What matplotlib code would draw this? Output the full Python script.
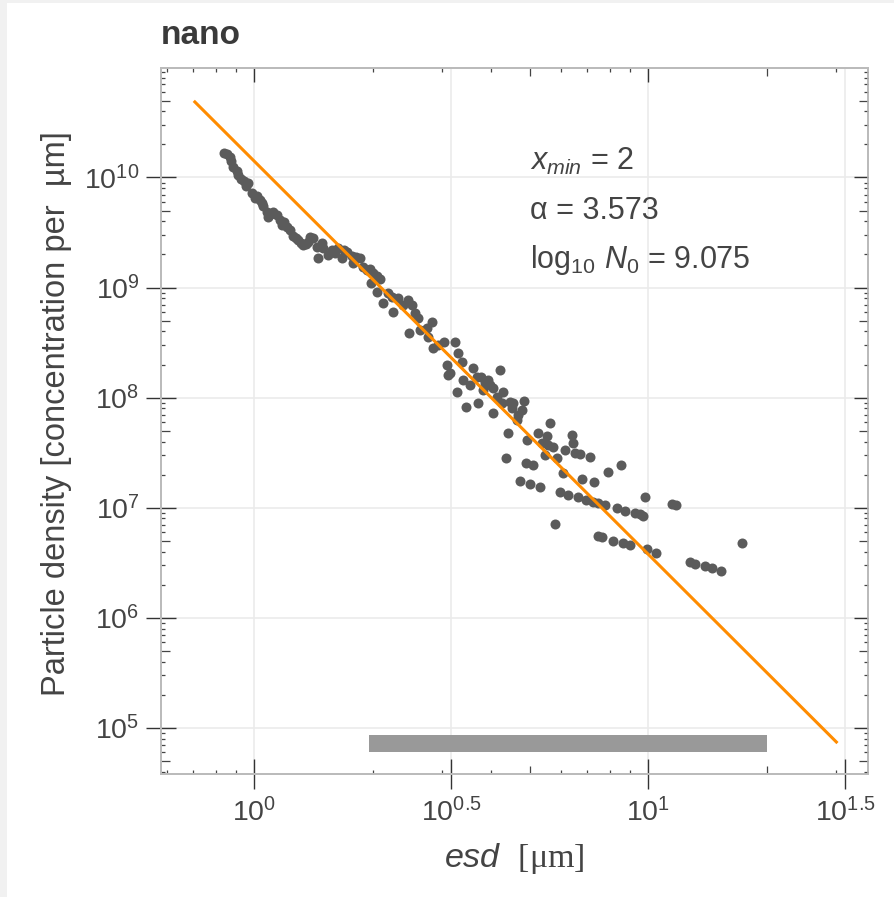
import numpy as np
import matplotlib
matplotlib.use("Agg")
import matplotlib.pyplot as plt
from matplotlib.patches import Rectangle
from matplotlib.ticker import FixedLocator, FixedFormatter, NullFormatter

plt.rcParams['font.family'] = ['Liberation Sans', 'DejaVu Sans']
plt.rcParams['mathtext.fontset'] = 'custom'
plt.rcParams['mathtext.it'] = 'Liberation Sans:italic'
plt.rcParams['mathtext.rm'] = 'Liberation Serif'
plt.rcParams['mathtext.sf'] = 'Liberation Sans'

# particle size spectrum (log10 units)
log_esd = np.array([
    -0.076, -0.068, -0.061, -0.058, -0.052, -0.044, -0.041, -0.034, -0.025, -0.020,
    -0.014, -0.006, 0.003, 0.008, 0.015, 0.020, 0.024, 0.032, 0.036, 0.043,
    0.049, 0.059, 0.066, 0.070, 0.076, 0.083, 0.091, 0.100, 0.107, 0.112,
    0.119, 0.125, 0.132, 0.138, 0.142, 0.150, 0.159, 0.163, 0.172, 0.176,
    0.188, 0.197, 0.205, 0.214, 0.222, 0.228, 0.235, 0.248, 0.252,
    0.260, 0.269, 0.277, 0.286, 0.294, 0.303, 0.311, 0.320, 0.298, 0.311,
    0.328, 0.341, 0.349, 0.353, 0.366, 0.379, 0.391, 0.400, 0.408, 0.417,
    0.394, 0.421, 0.438, 0.451, 0.442, 0.455, 0.467, 0.482, 0.489, 0.493,
    0.510, 0.518, 0.527, 0.497, 0.531, 0.556, 0.548, 0.514, 0.539, 0.569,
    0.565, 0.577, 0.586, 0.594, 0.599, 0.607, 0.624, 0.582, 0.616, 0.632,
    0.628, 0.607, 0.649, 0.658, 0.654, 0.685, 0.679, 0.670, 0.666, 0.645,
    0.639, 0.692, 0.721, 0.742, 0.751, 0.730, 0.746, 0.690, 0.708, 0.675,
    0.700, 0.725, 0.738,
    0.759, 0.768, 0.789, 0.806, 0.810, 0.814, 0.827, 0.852, 0.899, 0.930,
    0.784, 0.831, 0.862, 0.776, 0.797, 0.822, 0.842, 0.861, 0.873, 0.890,
    0.920, 0.941, 0.966, 0.979, 0.987, 0.993, 1.059, 1.070, 0.763, 0.873,
    0.882, 0.911, 0.935, 0.954, 0.997, 1.020, 1.106, 1.118, 1.144, 1.161,
    1.184, 1.237,
])
log_density = np.array([
    10.225, 10.213, 10.189, 10.150, 10.098, 10.062, 10.023, 9.984, 9.968, 9.923,
    9.947, 9.857, 9.811, 9.832, 9.796, 9.768, 9.741, 9.689, 9.644, 9.668,
    9.689, 9.659, 9.614, 9.569, 9.596, 9.553, 9.523, 9.469, 9.450, 9.432,
    9.405, 9.387, 9.396, 9.417, 9.462, 9.448, 9.371, 9.266, 9.402, 9.357,
    9.296, 9.342, 9.312, 9.357, 9.266, 9.342, 9.326, 9.287, 9.226,
    9.281, 9.266, 9.190, 9.160, 9.166, 9.135, 9.105, 9.075, 9.039, 8.963,
    8.857, 8.948, 8.917, 8.781, 8.903, 8.842, 8.887, 8.842, 8.767, 8.721,
    8.590, 8.615, 8.630, 8.690, 8.554, 8.449, 8.479, 8.509, 8.297, 8.206,
    8.509, 8.403, 8.327, 8.222, 8.161, 8.267, 8.115, 8.054, 7.918, 7.949,
    8.191, 8.191, 8.131, 8.161, 8.115, 8.085, 8.252, 8.070, 8.009, 8.054,
    7.949, 7.858, 7.964, 7.949, 7.904, 7.973, 7.888, 7.843, 7.797, 7.677,
    7.455, 7.616, 7.677, 7.652, 7.767, 7.586, 7.570, 7.404, 7.389, 7.246,
    7.216, 7.192, 7.480,
    7.555, 7.450, 7.525, 7.661, 7.586, 7.495, 7.489, 7.464, 7.322, 7.389,
    7.313, 7.261, 7.232, 7.146, 7.116, 7.095, 7.071, 7.055, 7.041, 7.025,
    6.995, 6.974, 6.950, 6.941, 6.926, 7.101, 7.034, 7.023, 6.853, 6.744,
    6.732, 6.701, 6.677, 6.662, 6.623, 6.592, 6.505, 6.490, 6.471, 6.456,
    6.426, 6.678,
])
esd = 10 ** log_esd
density = 10 ** log_density

# power-law fit parameters
x_min = 2
alpha = 3.573
log_n0 = 9.075
fit_range = [0.708, 30.0]
# fitted size range bar
bar_range = [1.96, 20.0]
bar_level = [10 ** 4.782, 10 ** 4.937]

x_major = [1, 10 ** 0.5, 10, 10 ** 1.5]
x_labels = [r'$\mathdefault{10^{0}}$', r'$\mathdefault{10^{0.5}}$',
            r'$\mathdefault{10^{1}}$', r'$\mathdefault{10^{1.5}}$']
x_minor = [0.6, 0.7, 0.8, 0.9, 2, 3, 4, 5, 6, 7, 8, 9, 20, 30]
x_medium = [5, 20]
y_major = [10.0 ** e for e in range(5, 11)]
y_labels = [r'$\mathdefault{10^{%d}}$' % e for e in range(5, 11)]
y_minor = [k * 10.0 ** e for e in range(4, 11) for k in range(2, 10)]
y_medium = [5 * 10.0 ** e for e in range(4, 11)]

fig = plt.figure(figsize=(8.95, 8.97), dpi=100)
fig.add_artist(Rectangle((0, 0), 7 / 895, 1, transform=fig.transFigure,
                         color='#f1f1f1', lw=0, zorder=-5))
fig.add_artist(Rectangle((0, 1 - 3 / 897), 1, 3 / 897, transform=fig.transFigure,
                         color='#f1f1f1', lw=0, zorder=-5))

ax = fig.add_axes([0.1799, 0.1371, 0.7899, 0.7874])
ax.set_xscale('log')
ax.set_yscale('log')
xlim = (0.581, 36.08)
ylim = (10 ** 4.582, 10 ** 10.997)
ax.set_xlim(xlim)
ax.set_ylim(ylim)

ax.grid(True, which='major', color='#ebebeb', lw=1.2, zorder=0)
ax.set_axisbelow(True)

ax.fill_between(bar_range, bar_level[0], bar_level[1], color='#999999', lw=0, zorder=2)
ax.scatter(esd, density, s=52, color='#5b5b5b', linewidths=0, zorder=3)
fx = np.array(fit_range)
ax.plot(fx, 10 ** log_n0 * (fx / x_min) ** (-alpha), color='#ff8c00', lw=2.2, zorder=4)

txt = dict(transform=ax.transAxes, fontsize=22, color='#444444', va='baseline', ha='left')
ax.text(0.522, 0.855, r'$x_{min}$ = 2', **txt)
ax.text(0.522, 0.786, 'α = 3.573', **txt)
ax.text(0.522, 0.716, r'log$_{\mathsf{10}}$ $N_{\mathsf{0}}$ = 9.075', **txt)

fig.text(161 / 895, 1 - 44 / 897, 'nano', fontsize=24, fontweight='bold',
         color='#3a3a3a', va='baseline', ha='left')

ax.set_xlabel(r'$esd$  $\mathrm{[\mu m]}$', fontsize=24.5, color='#444444')
ax.xaxis.label.set_verticalalignment('baseline')
ax.xaxis.set_label_coords(0.499, -0.1317)
ax.set_ylabel('Particle density [concentration per  µm]', fontsize=23.5, color='#444444')
ax.yaxis.label.set_verticalalignment('baseline')
ax.yaxis.set_label_coords(-0.1358, 0.51)


def mark_ticks(axis, majors, hidden, minors, medium, med_len):
    for t, loc in zip(axis.get_major_ticks(len(majors)), majors):
        if any(np.isclose(loc, h) for h in hidden):
            t.tick1line.set_visible(False)
            t.tick2line.set_visible(False)
    for t, loc in zip(axis.get_minor_ticks(len(minors)), minors):
        if any(np.isclose(loc, m) for m in medium):
            t.tick1line.set_markersize(med_len)
            t.tick2line.set_markersize(med_len)


half = [10 ** 0.5, 10 ** 1.5]

# main axes: labelled ticks on bottom and left
ax.xaxis.set_major_locator(FixedLocator(x_major))
ax.xaxis.set_major_formatter(FixedFormatter(x_labels))
ax.xaxis.set_minor_locator(FixedLocator(x_minor))
ax.xaxis.set_minor_formatter(NullFormatter())
ax.yaxis.set_major_locator(FixedLocator(y_major))
ax.yaxis.set_major_formatter(FixedFormatter(y_labels))
ax.yaxis.set_minor_locator(FixedLocator(y_minor))
ax.yaxis.set_minor_formatter(NullFormatter())
ax.tick_params(which='major', direction='inout', length=21, width=1.0, color='#333333',
               labelsize=20.5, labelcolor='#444444', top=False, right=False)
ax.tick_params(axis='x', which='major', pad=7)
ax.tick_params(axis='y', which='major', pad=5)
ax.tick_params(which='minor', direction='in', length=3, width=0.9, color='#444444',
               top=False, right=False)
mark_ticks(ax.xaxis, x_major, half, x_minor, x_medium, 6)
mark_ticks(ax.yaxis, y_major, [], y_minor, y_medium, 6.5)

# top and right frame ticks, pointing inwards only
axt = ax.twiny()
axt.set_xscale('log')
axt.set_xlim(xlim)
axt.xaxis.set_major_locator(FixedLocator(x_major))
axt.xaxis.set_minor_locator(FixedLocator(x_minor))
axt.xaxis.set_major_formatter(NullFormatter())
axt.xaxis.set_minor_formatter(NullFormatter())
axt.tick_params(which='major', direction='in', length=10, width=1.0, color='#333333',
                labeltop=False)
axt.tick_params(which='minor', direction='in', length=3, width=0.9, color='#444444')
mark_ticks(axt.xaxis, x_major, half, x_minor, x_medium, 6)

axr = ax.twinx()
axr.set_yscale('log')
axr.set_ylim(ylim)
axr.yaxis.set_major_locator(FixedLocator(y_major))
axr.yaxis.set_minor_locator(FixedLocator(y_minor))
axr.yaxis.set_major_formatter(NullFormatter())
axr.yaxis.set_minor_formatter(NullFormatter())
axr.tick_params(which='major', direction='in', length=10, width=1.0, color='#333333',
                labelright=False)
axr.tick_params(which='minor', direction='in', length=3, width=0.9, color='#444444')
mark_ticks(axr.yaxis, y_major, [], y_minor, y_medium, 6.5)

for a in (ax, axt, axr):
    for sp in a.spines.values():
        sp.set_color('#bbbbbb')
        sp.set_linewidth(1.1)

fig.savefig('out.png', dpi=100, facecolor='white')
